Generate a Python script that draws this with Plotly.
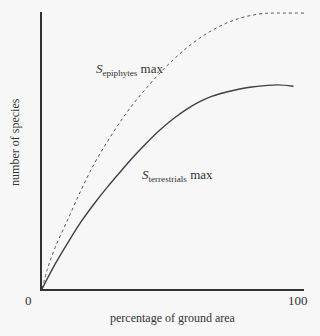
import plotly.graph_objects as go

# Data (x: % of ground area, y: relative number of species)
epi_x = [0, 2, 5, 10, 15, 20, 25, 30, 35, 40, 45, 50, 55, 60, 65, 70, 75, 80, 85, 88, 100]
epi_y = [0, 7, 15, 25.5, 36, 45.5, 53.5, 60.8, 67.3, 73, 78.3, 83, 87.2, 90.8, 93.8, 96.2, 98, 99.2, 99.9, 100, 100]
ter_x = [0, 5, 10, 15, 20, 25, 30, 35, 40, 45, 50, 55, 60, 65, 70, 75, 80, 85, 90, 96]
ter_y = [0, 9, 17, 24.5, 31, 37, 42.6, 48, 53, 57.6, 61.6, 65, 67.8, 69.9, 71.3, 72.4, 73.2, 73.7, 74.0, 73.5]

x_title = "percentage of ground area"
y_title = "number of species"
tick_labels = ["0", "100"]

FONT = "Liberation Serif"
INK = "#333333"

fig = go.Figure()
fig.add_trace(go.Scatter(x=epi_x, y=epi_y, mode="lines",
                         line=dict(color="#555555", width=1, dash="dot", shape="spline", smoothing=1),
                         showlegend=False))
fig.add_trace(go.Scatter(x=ter_x, y=ter_y, mode="lines",
                         line=dict(color="#404040", width=1.4, shape="spline", smoothing=1),
                         showlegend=False))

# tick labels (paper coords)
fig.add_annotation(x=-0.053, y=-0.043, xref="paper", yref="paper", text=tick_labels[0], showarrow=False,
                   xanchor="center", yanchor="middle", font=dict(family=FONT, size=13, color=INK))
fig.add_annotation(x=0.977, y=-0.043, xref="paper", yref="paper", text=tick_labels[1], showarrow=False,
                   xanchor="center", yanchor="middle", font=dict(family=FONT, size=13, color=INK))

# axis titles
fig.add_annotation(x=0.5, y=-0.105, xref="paper", yref="paper", text=x_title, showarrow=False,
                   xanchor="center", yanchor="middle", font=dict(family=FONT, size=12, color=INK))
fig.add_annotation(x=-0.103, y=0.531, xref="paper", yref="paper", text=y_title, showarrow=False, textangle=-90,
                   xanchor="center", yanchor="middle", font=dict(family=FONT, size=12, color=INK))

# curve labels
fig.add_annotation(x=19.9, y=79.5, xref="x", yref="y", text="<i>S</i><sub>epiphytes</sub> max", showarrow=False,
                   xanchor="left", font=dict(family=FONT, size=13, color=INK))
fig.add_annotation(x=37.5, y=41.0, xref="x", yref="y", text="<i>S</i><sub>terrestrials</sub> max", showarrow=False,
                   xanchor="left", font=dict(family=FONT, size=13, color=INK))

fig.update_layout(
    width=320, height=336,
    margin=dict(l=42, r=16, t=12, b=47),
    paper_bgcolor="#f7f7f7", plot_bgcolor="#f7f7f7",
    font=dict(family=FONT, size=12, color=INK),
    xaxis=dict(range=[0, 100], showgrid=False, zeroline=False, showticklabels=False, ticks="",
               showline=True, linecolor=INK, linewidth=1.5),
    yaxis=dict(range=[0, 100.4], showgrid=False, zeroline=False, showticklabels=False, ticks="",
               showline=True, linecolor=INK, linewidth=1.5),
)

fig.write_html("out.html")
